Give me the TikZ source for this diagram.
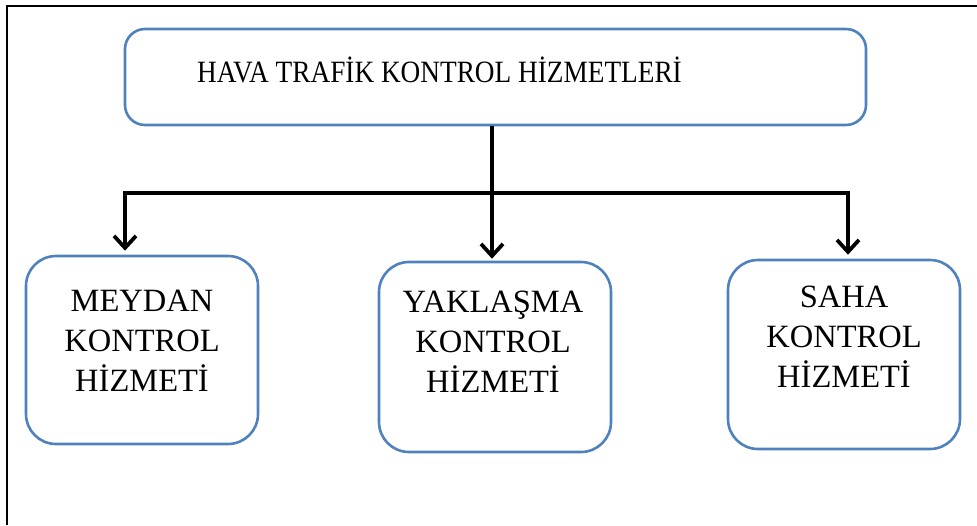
\documentclass[tikz,border=0pt]{standalone}
\usepackage{fontspec}
\setmainfont{Liberation Serif}
\usetikzlibrary{arrows.meta}
\definecolor{boxblue}{RGB}{79,129,189}
\begin{document}
\begin{tikzpicture}[x=1pt,y=-1pt,
  bluebox/.style={draw=boxblue,line width=2.6pt,rounded corners=#1,inner sep=0pt},
  txt/.style={inner sep=0pt,align=center,font=\fontsize{32.5}{40}\selectfont},
  arr/.style={line width=3.8pt,-{Straight Barb[length=12pt,width=22pt]}},
  frame/.style={line width=1.4pt}]
\useasboundingbox (0,0) rectangle (977,525);
% frame
\draw[frame] (7,525) -- (7,6) -- (977,6);
% top box
\node[bluebox=20pt,minimum width=741pt,minimum height=96pt] (top) at (495.5,77) {};
\node[inner sep=0pt,anchor=base,font=\fontsize{31}{36}\selectfont] (toptext) at (439.5,82) {\scalebox{0.88}[1]{HAVA TRAFİK KONTROL HİZMETLERİ}};
% bottom boxes
\node[bluebox=30pt,minimum width=232pt,minimum height=188pt] (lbox) at (142,350) {};
\node[bluebox=30pt,minimum width=232pt,minimum height=190pt] (mbox) at (495,357) {};
\node[bluebox=30pt,minimum width=232pt,minimum height=189pt] (rbox) at (844,354.5) {};
\node[txt,anchor=north] (ltext) at (142,289.5) {MEYDAN\\KONTROL\\HİZMETİ};
\node[txt,anchor=north] (mtext) at (493,290.5) {YAKLAŞMA\\KONTROL\\HİZMETİ};
\node[txt,anchor=north] (rtext) at (844,285.5) {SAHA\\KONTROL\\HİZMETİ};
% connectors
\coordinate (j) at (492,193);
\draw[arr] ([xshift=-3.5pt]top.south) -- ([xshift=-3pt,yshift=2pt]mbox.north);
\draw[arr] (j) -| ([xshift=-17pt,yshift=4pt]lbox.north);
\draw[arr] (j) -| ([xshift=4pt,yshift=4pt]rbox.north);
\end{tikzpicture}
\end{document}
